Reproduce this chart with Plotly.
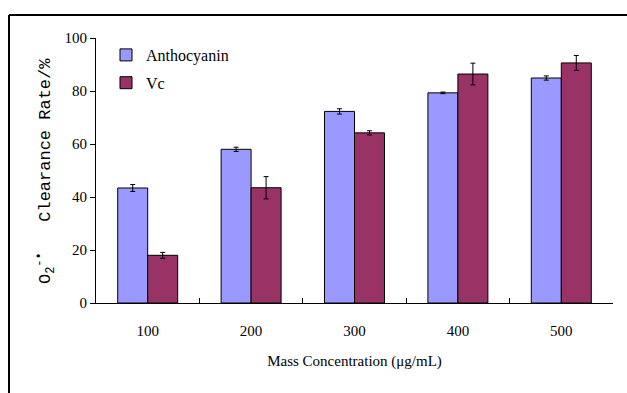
import plotly.graph_objects as go

categories = ["100", "200", "300", "400", "500"]
anthocyanin = [43.4, 58.0, 72.3, 79.3, 84.9]
anthocyanin_err = [1.3, 0.8, 1.0, 0.3, 0.8]
vc = [18.0, 43.5, 64.2, 86.4, 90.6]
vc_err = [1.1, 4.2, 0.8, 4.1, 2.8]
y_ticks = [0, 20, 40, 60, 80, 100]

W, H = 627, 393
L, R, T, B = 96, 14, 38, 90
pw, ph = W - L - R, H - T - B

def px(x):
    return (x - L) / pw

def py(y):
    return (H - B - y) / ph

serif = "Liberation Serif"

fig = go.Figure()
fig.add_trace(go.Bar(
    x=categories, y=anthocyanin, name="Anthocyanin", legendgroup="a",
    marker=dict(color="#9999FF", line=dict(color="black", width=1)),
    error_y=dict(type="data", array=anthocyanin_err, color="black", thickness=1, width=2.5),
))
fig.add_trace(go.Bar(
    x=categories, y=vc, name="Vc", legendgroup="b",
    marker=dict(color="#993366", line=dict(color="black", width=1)),
    error_y=dict(type="data", array=vc_err, color="black", thickness=1, width=2.5),
))

fig.update_layout(
    width=W, height=H,
    margin=dict(l=L, r=R, t=T, b=B),
    paper_bgcolor="white", plot_bgcolor="white",
    barmode="group", bargap=0.42, bargroupgap=0,
    font=dict(family=serif, size=15, color="black"),
    legend=dict(x=px(106), y=py(38), xanchor="left", yanchor="top",
                bgcolor="rgba(0,0,0,0)", font=dict(family=serif, size=16),
                tracegroupgap=4, traceorder="grouped", itemwidth=30),
    showlegend=True,
    xaxis=dict(
        type="category", showline=True, linecolor="black", linewidth=1,
        ticks="inside", tickson="boundaries", ticklen=5, tickcolor="black",
        showgrid=False, zeroline=False, ticklabelstandoff=14,
        tickfont=dict(family=serif, size=15),
        title=dict(text="Mass Concentration (μg/mL)", standoff=17,
                   font=dict(family=serif, size=15)),
    ),
    yaxis=dict(
        range=[0, 100], tickvals=y_ticks, showline=True, linecolor="black", linewidth=1,
        ticks="outside", ticklen=5, tickcolor="black", showgrid=False, zeroline=False,
        tickfont=dict(family=serif, size=15),
    ),
)

fig.add_annotation(
    text="O<sub>2</sub><sup>-•</sup>\u00a0\u00a0\u00a0Clearance Rate/%",
    textangle=-90, xref="paper", yref="paper", x=px(45), y=py(171),
    xanchor="center", yanchor="middle", showarrow=False,
    font=dict(family="Liberation Mono", size=17, color="black"),
)

# Frame lines from the cropped source page
fig.add_shape(type="line", xref="paper", yref="paper",
              x0=px(9), x1=px(627), y0=py(15), y1=py(15),
              line=dict(color="black", width=2))
fig.add_shape(type="line", xref="paper", yref="paper",
              x0=px(9), x1=px(9), y0=py(15), y1=py(393),
              line=dict(color="black", width=2))

fig.write_html("out.html")
